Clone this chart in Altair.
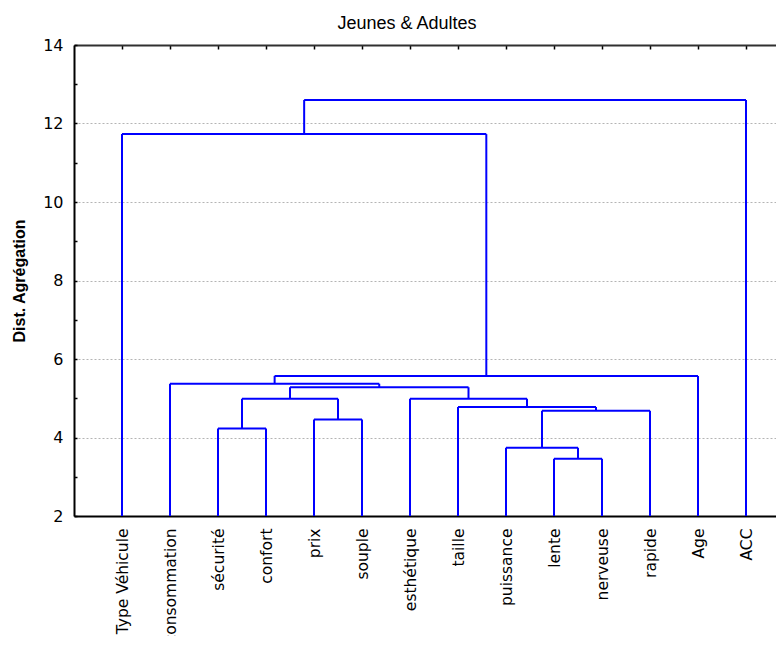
import json
import altair as alt
import pandas as pd

# Leaves of the dendrogram (left to right)
labels = ["Type Véhicule", "consommation", "sécurité", "confort", "prix", "souple",
          "esthétique", "taille", "puissance", "lente", "nerveuse", "rapide", "Age", "ACC"]

# Agglomeration steps (scipy-like: ids >= len(labels) are earlier clusters)
merge_left = [9, 8, 2, 4, 15, 7, 16, 6, 20, 1, 23, 0, 25]
merge_right = [10, 14, 3, 5, 11, 18, 17, 19, 21, 22, 12, 24, 13]
merge_height = [3.46, 3.74, 4.23, 4.46, 4.68, 4.78, 4.99, 4.99, 5.28, 5.37, 5.57, 11.73, 12.60]

y_ticks_major = [2, 4, 6, 8, 10, 12, 14]
y_ticks_all = list(range(2, 15))

y_min, y_max = 2, 14
n = len(labels)

pos = {i: (float(i), float(y_min)) for i in range(n)}
rows = []
for k, (a, b, h) in enumerate(zip(merge_left, merge_right, merge_height)):
    xa, ya = pos[a]
    xb, yb = pos[b]
    rows.append(dict(x=xa, x2=xa, y=ya, y2=h))
    rows.append(dict(x=xb, x2=xb, y=yb, y2=h))
    rows.append(dict(x=xa, x2=xb, y=h, y2=h))
    pos[n + k] = ((xa + xb) / 2.0, h)
df = pd.DataFrame(rows)

FONT = "Liberation Sans"
WIDE = "DejaVu Sans"
xs = alt.Scale(domain=[-1, 13.625], nice=False, zero=False)
ys = alt.Scale(domain=[y_min, y_max], nice=False, zero=False)
label_expr = json.dumps(labels, ensure_ascii=False) + "[datum.value]"

main = alt.Chart(df).mark_rule(color="#0000FF", strokeWidth=2).encode(
    x=alt.X("x:Q", scale=xs, axis=alt.Axis(
        orient="bottom", values=list(range(n)), labelExpr=label_expr,
        labelAngle=270, labelAlign="right", labelBaseline="middle",
        labelFont=WIDE, labelFontSize=15.5, labelColor="black", labelPadding=12,
        labelOverlap=False, labelFlush=False, labelBound=False, labelLimit=0,
        ticks=False, tickSize=0, grid=False, domain=True,
        domainColor="black", domainWidth=2, title=None)),
    x2="x2:Q",
    y=alt.Y("y:Q", scale=ys, axis=alt.Axis(
        orient="left", values=y_ticks_major, format="d",
        labelFont=WIDE, labelFontSize=16, labelColor="black", labelPadding=11,
        ticks=False, tickSize=0, grid=True, gridColor="#b4b4b4", gridDash=[2, 2],
        gridWidth=1, domain=True, domainColor="black", domainWidth=2,
        title="Dist. Agrégation", titleFont=FONT, titleFontSize=16,
        titleFontWeight="bold", titleColor="black", titleAngle=270,
        titleAlign="center", titleBaseline="middle", titleX=-55, titleY=235.5)),
    y2="y2:Q",
)

ticks_layer = alt.Chart(df).mark_rule(opacity=0).encode(
    x=alt.X("x:Q", scale=xs, axis=alt.Axis(
        orient="top", values=list(range(n)), labels=False, domain=False,
        ticks=True, tickSize=4, tickColor="black", tickWidth=1.5, offset=-4,
        grid=False, title=None)),
    x2="x2:Q",
    y=alt.Y("y:Q", scale=ys, axis=alt.Axis(
        orient="left", values=y_ticks_all, labels=False, domain=False,
        ticks=True, tickSize=3, tickColor="black", tickWidth=1.5, offset=-3,
        grid=False, title=None)),
    y2="y2:Q",
)

top_line = alt.Chart(df).mark_rule(opacity=0).encode(
    x=alt.X("x:Q", scale=xs, axis=alt.Axis(
        orient="top", values=list(range(n)), labels=False, domain=True,
        domainColor="#303030", domainWidth=2, ticks=False, grid=False, title=None)),
    x2="x2:Q",
    y=alt.Y("y:Q", scale=ys, axis=None),
    y2="y2:Q",
)

chart = alt.layer(main, ticks_layer, top_line).resolve_axis(
    x="independent", y="independent"
).properties(
    width=702,
    height=471,
    autosize="none",
    padding={"left": 66, "top": 37, "right": 0, "bottom": 120},
    title=alt.TitleParams("Jeunes & Adultes", font=FONT, fontSize=18,
                          fontWeight="normal", color="black", offset=4, dx=-18,
                          dy=14, anchor="middle", baseline="alphabetic"),
    background="white",
).configure_view(stroke=None)

chart.save("out.html", embed_options={"renderer": "svg", "actions": False})
